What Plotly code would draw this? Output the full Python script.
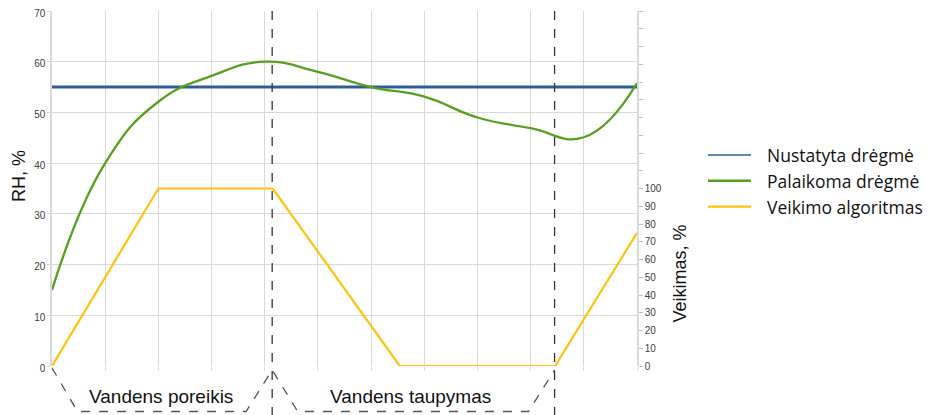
import plotly.graph_objects as go

# x positions are in "grid steps" (11 vertical grid cells across the chart)
X_MAX = 11

set_x = [0, 11]
set_rh = [55, 55]

kept_x = [0, 1, 2, 3, 4, 5, 6, 7, 8, 9, 10, 11]
kept_rh = [15, 40, 52.1, 57.2, 60, 58, 55, 53.1, 49, 46.9, 45.1, 55.8]

algo_x = [0, 2, 4.15, 6.54, 9.46, 11]
algo_pct = [0, 100, 100, 0, 0, 75]

phase_edges = [0, 4.14, 9.45]
phase_names = ["Vandens poreikis", "Vandens taupymas"]
phase_label_x = [2.05, 6.75]

rh_ticks = list(range(0, 71, 10))
pct_ticks = list(range(0, 201, 10))
pct_labels = [str(v) if v <= 100 else "" for v in pct_ticks]

names = ["Nustatyta drėgmė", "Palaikoma drėgmė", "Veikimo algoritmas"]
BLUE = "#2f5c97"
GREEN = "#55a01f"
YELLOW = "#ffc20e"
colors = [BLUE, GREEN, YELLOW]
GRID = "#d9d9d9"
TICKFONT = dict(family="Liberation Sans, Arial", size=10, color="#404040")

# page has an 8px body margin, so the figure sits 8px in from the window corner
OFF = 8
W, H = 935, 415
L, R, T, B = 44, 306, 3, 57

fig = go.Figure()
fig.add_trace(go.Scatter(x=set_x, y=set_rh, mode="lines", name=names[0],
                         line=dict(color=BLUE, width=3)))
fig.add_trace(go.Scatter(x=kept_x, y=kept_rh, mode="lines", name=names[1],
                         line=dict(color=GREEN, width=2.3, shape="spline", smoothing=1.3)))
fig.add_trace(go.Scatter(x=algo_x, y=algo_pct, mode="lines", name=names[2],
                         line=dict(color=YELLOW, width=2.2), yaxis="y2"))

def px(x):
    return x / X_MAX

def pxx(p):  # window pixel x -> paper
    return (p - OFF - L) / (W - L - R)

def pxy(p):  # window pixel y -> paper
    return (H - B - (p - OFF)) / (H - T - B)

# dashed phase separators
for e in phase_edges[1:]:
    fig.add_shape(type="line", xref="paper", yref="paper", x0=px(e), x1=px(e), y0=1, y1=pxy(416),
                  line=dict(color="#333", width=1.3, dash="dash"))

# bracket under the axis
low, high = pxy(411.5), pxy(370)
path = f"M {px(phase_edges[0])},{pxy(368)} "
for a, b in zip(phase_edges[:-1], phase_edges[1:]):
    path += f"L {px(a + 0.48)},{low} L {px(b - 0.49)},{low} L {px(b)},{high} "
fig.add_shape(type="path", xref="paper", yref="paper", path=path,
              line=dict(color="#555", width=1.3, dash="dash"))

for name, lx in zip(phase_names, phase_label_x):
    fig.add_annotation(x=px(lx), y=pxy(397), xref="paper", yref="paper", text=name, showarrow=False,
                       xanchor="center", yanchor="middle",
                       font=dict(family="Liberation Sans, Arial", size=19, color="#111"))

fig.add_annotation(x=pxx(19), y=pxy(176), xref="paper", yref="paper", text="RH, %", textangle=-90,
                   showarrow=False, xanchor="center", yanchor="middle",
                   font=dict(family="Liberation Sans, Arial", size=18, color="#111"))
fig.add_annotation(x=pxx(679.5), y=pxy(274), xref="paper", yref="paper", text="Veikimas, %",
                   textangle=-90, showarrow=False, xanchor="center", yanchor="middle",
                   font=dict(family="Liberation Sans, Arial", size=18, color="#111"))

# legend drawn by hand (long line samples)
for i, (n, c) in enumerate(zip(names, colors)):
    yy = pxy(155 + 25.8 * i)
    fig.add_shape(type="line", xref="paper", yref="paper", x0=pxx(708), x1=pxx(751), y0=yy, y1=yy,
                  line=dict(color=c, width=1.6 if i == 0 else 2.4))
    fig.add_annotation(x=pxx(765), y=yy, xref="paper", yref="paper", text=n, showarrow=False,
                       xanchor="left", yanchor="middle",
                       font=dict(family="Open Sans", size=17.5, color="#111"))

fig.update_layout(
    width=W, height=H,
    margin=dict(l=L, r=R, t=T, b=B),
    plot_bgcolor="white", paper_bgcolor="white",
    xaxis=dict(range=[0, X_MAX], dtick=1, tick0=0, showticklabels=False, showgrid=True,
               gridcolor=GRID, ticks="outside", ticklen=4, tickcolor=GRID,
               zeroline=False, showline=False, automargin=False),
    yaxis=dict(range=[0, 70], tickvals=rh_ticks, showgrid=True, gridcolor=GRID,
               ticks="outside", ticklen=3, tickcolor=GRID, tickfont=TICKFONT,
               ticklabeloverflow="allow", ticklabelshift=2,
               zeroline=False, showline=True, linecolor=GRID, linewidth=1.5, automargin=False),
    yaxis2=dict(range=[0, 200], overlaying="y", side="right", tickvals=pct_ticks,
                ticktext=pct_labels, showgrid=False, ticks="outside", ticklen=4,
                tickcolor="#bfbfbf", tickfont=TICKFONT, zeroline=False,
                showline=True, linecolor=GRID, linewidth=1.5, automargin=False),
    showlegend=False,
)

fig.write_html("out.html")
